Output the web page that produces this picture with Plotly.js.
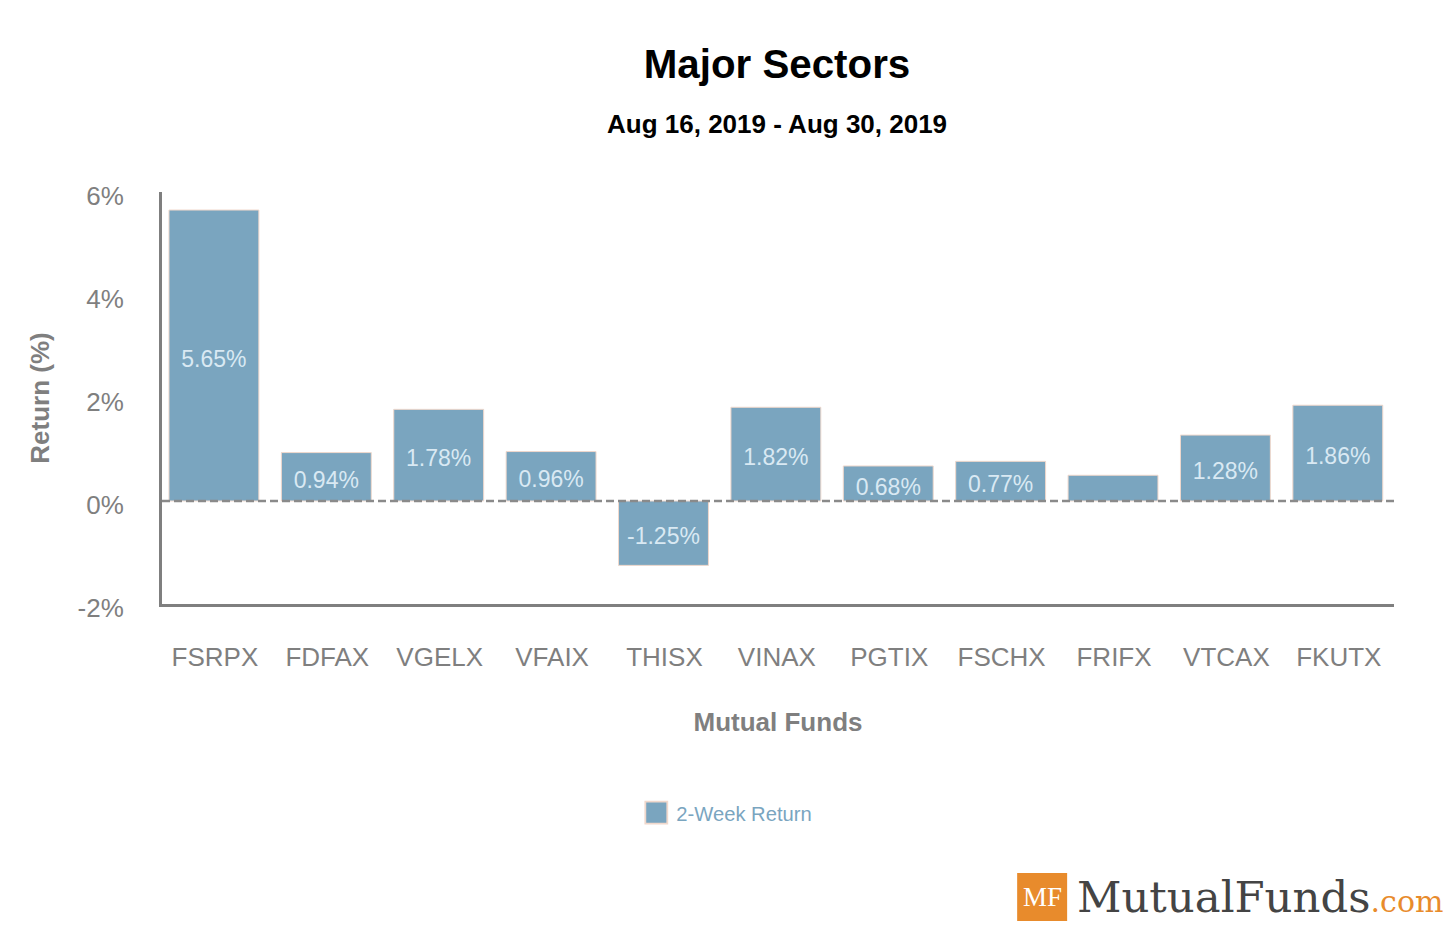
<!DOCTYPE html>
<html><head><meta charset="utf-8"><script src="https://cdn.plot.ly/plotly-3.0.1.min.js"></script>
<style>html,body{margin:0;padding:0;background:#fff}</style></head>
<body><div id="chart" style="width:1445px;height:925px"></div>
<script>
const funds = ["FSRPX","FDFAX","VGELX","VFAIX","THISX","VINAX","PGTIX","FSCHX","FRIFX","VTCAX","FKUTX"];
const returns = [5.65,0.94,1.78,0.96,-1.25,1.82,0.68,0.77,0.5,1.28,1.86];
const labels = ["5.65%","0.94%","1.78%","0.96%","-1.25%","1.82%","0.68%","0.77%","","1.28%","1.86%"];
const yTicks = [-2,0,2,4,6];
const yTickLabels = ["-2%","0%","2%","4%","6%"];
const W=1445,H=925,L=161.5,R=1394,T=192,B=604;
const px=x=>(x-L)/(R-L), py=y=>(B-y)/(B-T);
const FF='"Liberation Sans", Arial, sans-serif', SF='"DejaVu Serif", serif';
const GREY='#7f7f7f', BLUE='#7aa5bf';
const bars={type:'bar',x:funds,y:returns,name:'2-Week Return',
 marker:{color:BLUE,line:{color:'#f0d8cc',width:1}},hoverinfo:'x+y'};
const barLabels={type:'scatter',mode:'text',x:funds,y:returns.map(v=>v/2-0.105),text:labels,textposition:'middle center',
 textfont:{family:FF,size:23,color:'#d9e9f3'},showlegend:false,hoverinfo:'skip',cliponaxis:false};
const layout={width:W,height:H,margin:{l:L,r:W-R,t:T,b:H-B},paper_bgcolor:'#fff',plot_bgcolor:'#fff',bargap:0.2,showlegend:true,
 font:{family:FF,color:GREY},
 title:{text:'<b>Major Sectors</b>',font:{family:FF,size:40.3,color:'#000'},x:777/W,xanchor:'center',y:1-64/H,yanchor:'middle'},
 xaxis:{type:'category',categoryorder:'array',categoryarray:funds,range:[-0.462,10.5],showgrid:false,zeroline:false,showline:true,linecolor:GREY,linewidth:3,
  ticks:'',tickfont:{family:FF,size:26,color:GREY},ticklabelstandoff:28,ticklabelshift:1,title:{text:'<b>Mutual Funds</b>',font:{family:FF,size:26,color:GREY},standoff:42}},
 yaxis:{range:[-2,6],tickvals:yTicks,ticktext:yTickLabels,showgrid:false,zeroline:false,showline:true,linecolor:GREY,linewidth:3,ticks:'',tickfont:{family:FF,size:26,color:GREY},
  ticklabelstandoff:30,ticklabelshift:4,title:{text:'<b>Return (%)</b>',font:{family:FF,size:26,color:GREY},standoff:21}},
 legend:{x:px(636),y:py(813),xref:'paper',yref:'paper',xanchor:'left',yanchor:'middle',orientation:'h',font:{family:FF,size:20.2,color:BLUE},bgcolor:'rgba(0,0,0,0)'},
 shapes:[
  {type:'line',xref:'paper',x0:0,x1:1,yref:'y',y0:0,y1:0,line:{color:'#8a8a8a',width:2.5,dash:'8px,4px'},layer:'above'},
  {type:'rect',xref:'paper',yref:'paper',x0:px(1017),x1:px(1067),y0:py(921),y1:py(873),fillcolor:'#e88b2c',line:{width:0}}
 ],
 annotations:[
  {xref:'paper',yref:'paper',x:px(777),y:py(124),text:'<b>Aug 16, 2019 - Aug 30, 2019</b>',showarrow:false,xanchor:'center',yanchor:'middle',font:{family:FF,size:26,color:'#000'}},
  {xref:'paper',yref:'paper',x:px(1042),y:py(897),text:'MF',showarrow:false,xanchor:'center',yanchor:'middle',font:{family:'"Liberation Serif", serif',size:27,color:'#fff'}},
  {xref:'paper',yref:'paper',x:px(1075),y:py(897),text:'MutualFunds<span style="color:#e88b2c;font-size:30px">.com</span>',showarrow:false,xanchor:'left',yanchor:'middle',font:{family:SF,size:43.4,color:'#444444'}}
 ]};
Plotly.newPlot('chart',[bars,barLabels],layout,{displayModeBar:false}).then(gd=>{
 gd.querySelectorAll('.legend .legendpoints path').forEach(p=>{
  const t=p.getAttribute('transform')||'';
  p.setAttribute('transform',t+' scale(1.83)');
 });
});
</script></body></html>
